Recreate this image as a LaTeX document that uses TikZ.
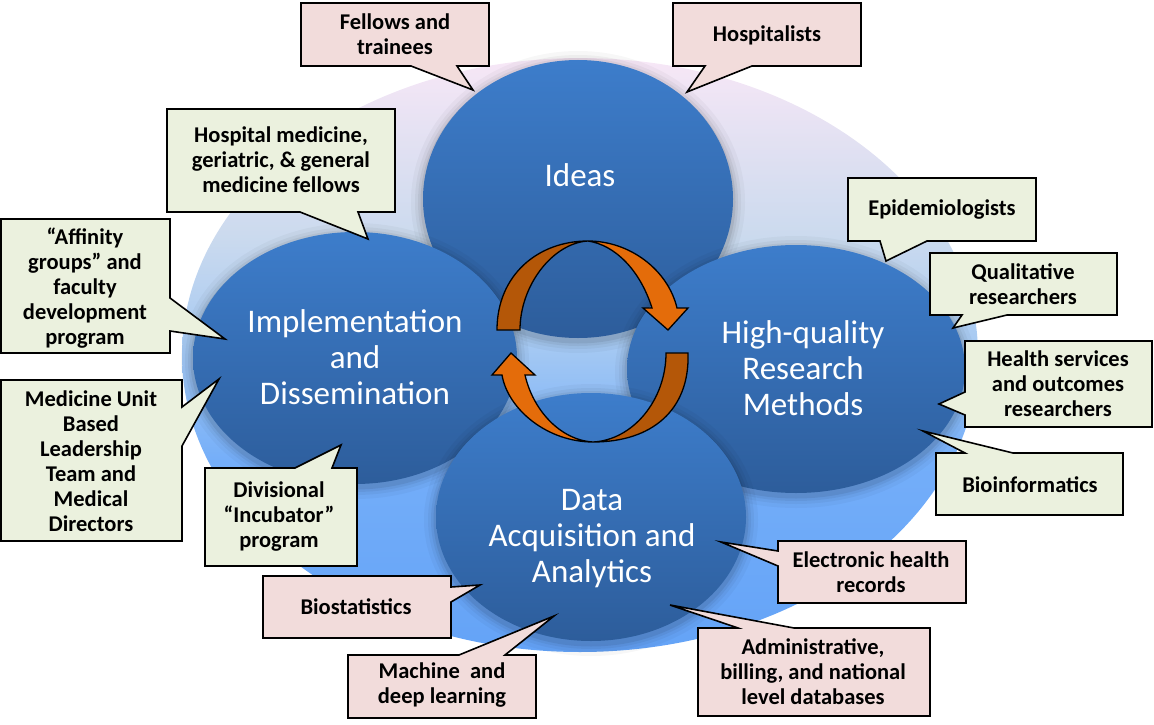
\documentclass[tikz,border=0pt]{standalone}
\usepackage{fontspec}
\setmainfont{Carlito}
\usetikzlibrary{shapes.geometric}
\definecolor{pinkf}{HTML}{F2DCDB}
\definecolor{greenf}{HTML}{EBF1DE}
\definecolor{elltop}{HTML}{3D7DCB}
\definecolor{ellbot}{HTML}{2D5D9B}
\definecolor{bgtop}{HTML}{F7E7F6}
\definecolor{bgmtwo}{HTML}{CBDAEE}
\definecolor{bgmid}{HTML}{A9CBF2}
\definecolor{bgbtwo}{HTML}{74AEF9}
\definecolor{bgbot}{HTML}{64A3F7}
\definecolor{orbright}{HTML}{E46C0A}
\definecolor{ordark}{HTML}{B45708}
\pgfdeclareverticalshading{bgshade}{100bp}{color(0bp)=(bgbot); color(25bp)=(bgbot); color(41bp)=(bgbtwo); color(51.5bp)=(bgmid); color(60bp)=(bgmtwo); color(75bp)=(bgtop); color(100bp)=(bgtop)}
\newcommand\ellhalo[4]{\foreach \k/\o in {12/0.03,8/0.04,5/0.05,2.5/0.07}{\fill[black,opacity=\o] (#1,#2+3) ellipse [x radius=#3+\k, y radius=#4+\k];}}
\tikzset{
  bigell/.style={ellipse, inner sep=0pt, top color=elltop, bottom color=ellbot, draw=none},
  elltext/.style={text=white, align=center, inner sep=0pt, font=\fontsize{33}{36}\selectfont},
  pinkco/.style={draw=black, line width=1.6pt, fill=pinkf, line join=miter},
  greenco/.style={draw=black, line width=1.6pt, fill=greenf, line join=miter},
  colbl/.style={align=center, inner sep=0pt, font=\bfseries\fontsize{22.5}{25}\selectfont},
  arrowpart/.style={draw=black, line width=1.3pt, line join=miter}
}
\begin{document}
\begin{tikzpicture}[x=1pt,y=-1pt]
\useasboundingbox (0,0) rectangle (1154,725);
% background
\node[ellipse, inner sep=0pt, minimum width=796pt, minimum height=594pt, shading=bgshade] (bg) at (580,355) {};
% ellipses
\ellhalo{578}{199}{155}{139}
\node[bigell, minimum width=310pt, minimum height=278pt] (ideas) at (578,199) {};
\ellhalo{355}{358}{162}{126}
\node[bigell, minimum width=324pt, minimum height=252pt] (impl) at (355,358) {};
\ellhalo{796}{369}{169}{124}
\node[bigell, minimum width=338pt, minimum height=248pt] (hq) at (796,369) {};
\ellhalo{591}{517}{155}{124}
\node[bigell, minimum width=310pt, minimum height=248pt] (data) at (591,517) {};
% ellipse texts
\node[elltext] (tideas) at (580,175) {Ideas};
\node[elltext] (timpl) at (355,357) {Implementation\\and\\Dissemination};
\node[elltext] (thq) at (803,368) {High-quality\\Research\\Methods};
\node[elltext] (tdata) at (592,539) {Data\\Acquisition and\\Analytics};
% circular arrows
\draw[arrowpart, fill=ordark] (497,330) .. controls (497,275) and (538,241) .. (588,241)
  .. controls (553,243) and (520,285) .. (520,330) -- cycle;
\draw[arrowpart, fill=orbright] (588,241) .. controls (630,241) and (668,270) .. (677,308)
  -- (688,308) -- (668,330) -- (643,308) -- (652,308)
  .. controls (640,270) and (615,245) .. (588,241) -- cycle;
\draw[arrowpart, fill=ordark] (666,353) -- (688,353) .. controls (690,410) and (652,442) .. (593,442)
  .. controls (633,440) and (666,400) .. (666,353) -- cycle;
\draw[arrowpart, fill=orbright] (593,442) .. controls (548,442) and (508,410) .. (502,375)
  -- (492,375) -- (511,353) -- (535,375) -- (525,375)
  .. controls (533,410) and (560,440) .. (593,442) -- cycle;
% callouts
\draw[pinkco] (301,3) -- (489,3) -- (489,66) -- (457,66) -- (473,90) -- (411,66) -- (301,66) -- cycle;
\node[colbl] (fel) at (395,34) {Fellows and\\trainees};
\draw[pinkco] (673,3) -- (861,3) -- (861,66) -- (752,66) -- (687,92) -- (705,66) -- (673,66) -- cycle;
\node[colbl] (hosp) at (767,35) {Hospitalists};
\draw[greenco] (167,109) -- (395,109) -- (395,212) -- (358,212) -- (368,239) -- (300,212) -- (167,212) -- cycle;
\node[colbl] (hmf) at (281,160) {Hospital medicine,\\geriatric, \& general\\medicine fellows};
\draw[greenco] (1,219) -- (170,219) -- (170,298) -- (225,339) -- (170,331) -- (170,353) -- (1,353) -- cycle;
\node[colbl] (aff) at (85,288) {“Affinity\\groups” and\\faculty\\development\\program};
\draw[greenco] (1,380) -- (182,380) -- (182,407) -- (219,379) -- (182,446) -- (182,541) -- (1,541) -- cycle;
\node[colbl] (mub) at (91,461) {Medicine Unit\\Based\\Leadership\\Team and\\Medical\\Directors};
\draw[greenco] (205,468) -- (295,468) -- (341,445) -- (332,468) -- (357,468) -- (357,566) -- (205,566) -- cycle;
\node[colbl] (inc) at (279,517) {Divisional\\“Incubator”\\program};
\draw[pinkco] (263,576) -- (451,576) -- (451,587) -- (480,585) -- (451,602) -- (451,638) -- (263,638) -- cycle;
\node[colbl] (bio) at (356,607) {Biostatistics};
\draw[pinkco] (348,655) -- (459,655) -- (554,616) -- (505,655) -- (536,655) -- (536,718) -- (348,718) -- cycle;
\node[colbl] (mdl) at (442,685) {Machine~ and\\deep learning};
\draw[pinkco] (778,541) -- (966,541) -- (966,603) -- (778,603) -- (778,566) -- (721,542) -- (778,551) -- cycle;
\node[colbl] (ehr) at (871,572) {Electronic health\\records};
\draw[pinkco] (698,628) -- (738,628) -- (670,605) -- (794,628) -- (930,628) -- (930,716) -- (698,716) -- cycle;
\node[colbl] (adm) at (813,672) {Administrative,\\billing, and national\\level databases};
\draw[greenco] (848,178) -- (1036,178) -- (1036,241) -- (927,241) -- (886,261) -- (880,241) -- (848,241) -- cycle;
\node[colbl] (epi) at (942,210) {Epidemiologists};
\draw[greenco] (930,253) -- (1117,253) -- (1117,315) -- (1007,315) -- (953,328) -- (962,315) -- (930,315) -- cycle;
\node[colbl] (qual) at (1023,284) {Qualitative\\researchers};
\draw[greenco] (965,341) -- (1152,341) -- (1152,427) -- (965,427) -- (965,415) -- (939,404) -- (965,392) -- cycle;
\node[colbl] (hsr) at (1058,384) {Health services\\and outcomes\\researchers};
\draw[greenco] (936,453) -- (965,453) -- (923,431) -- (1013,453) -- (1123,453) -- (1123,515) -- (936,515) -- cycle;
\node[colbl] (bioinf) at (1030,485) {Bioinformatics};
\end{tikzpicture}
\end{document}
